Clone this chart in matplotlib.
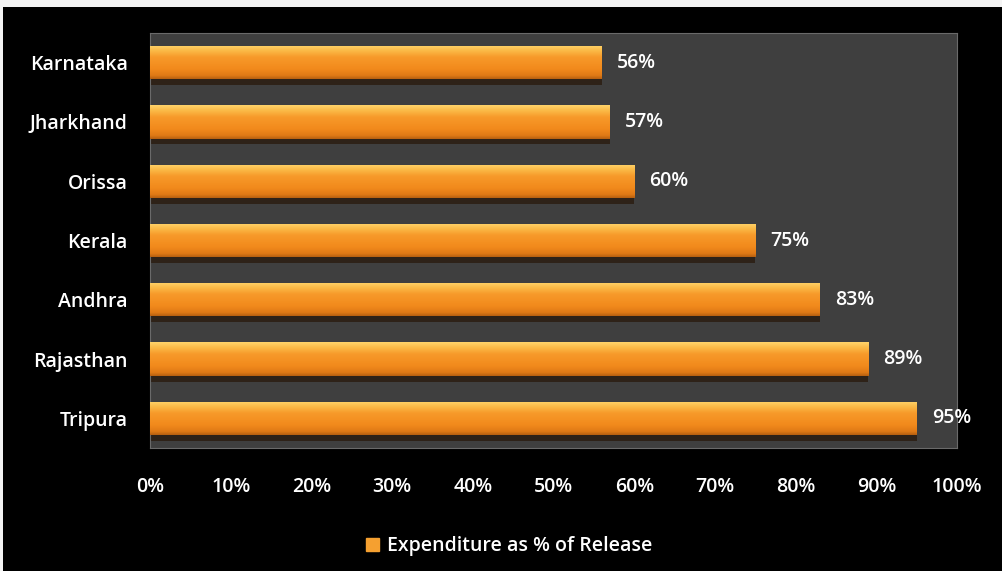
import matplotlib
matplotlib.use("Agg")
import matplotlib.pyplot as plt
import numpy as np
from matplotlib.colors import LinearSegmentedColormap
from matplotlib.patches import Patch, Rectangle

states = ["Karnataka", "Jharkhand", "Orissa", "Kerala", "Andhra", "Rajasthan", "Tripura"]
values = [56, 57, 60, 75, 83, 89, 95]
xticks = [0, 10, 20, 30, 40, 50, 60, 70, 80, 90, 100]
legend_label = "Expenditure as % of Release"

plt.rcParams['font.family'] = ['Open Sans', 'DejaVu Sans']
FS = 14

fig = plt.figure(figsize=(10.02, 5.71), dpi=100, facecolor='black')
# thin white border at top and left
fig.patches.append(Rectangle((0, 1 - 7/571), 1, 7/571, transform=fig.transFigure,
                             facecolor='#f4f4f4', edgecolor='none', zorder=0))
fig.patches.append(Rectangle((0, 0), 3/1002, 1, transform=fig.transFigure,
                             facecolor='#f4f4f4', edgecolor='none', zorder=0))

L, R, T, B = 150, 957, 33, 448
ax = fig.add_axes([L/1002, 1 - B/571, (R-L)/1002, (B-T)/571])
ax.set_facecolor('#3f3f3f')
for s in ax.spines.values():
    s.set_color('#6a6a6a')
    s.set_linewidth(0.8)

y = np.arange(len(states))
h = 0.56
# shadow (3D floor) below each bar
ax.barh(y + 0.1, values, height=h, color='#2e2218', zorder=1)
bars = ax.barh(y, values, height=h, color='#f28c1e', zorder=2)

cmap = LinearSegmentedColormap.from_list('cyl', [
    (0.0, '#ffd36a'), (0.15, '#fbbb48'), (0.35, '#f79a2a'),
    (0.7, '#f28a1c'), (0.9, '#e07a16'), (1.0, '#b86010')])
grad = np.linspace(0, 1, 64).reshape(-1, 1)
for b in bars:
    x0, y0 = b.get_x(), b.get_y()
    w, hh = b.get_width(), b.get_height()
    im = ax.imshow(grad, cmap=cmap, aspect='auto',
                   extent=[x0, x0 + w, y0 + hh, y0], origin='upper', zorder=3)
    im.set_clip_path(b)

for yi, v in zip(y, values):
    ax.text(v + 1.9, yi, f"{v}%", color='white', va='center', ha='left',
            fontsize=FS, fontweight='semibold', zorder=4)

ax.set_xlim(0, 100)
ax.set_ylim(len(states) - 0.5, -0.5)
ax.set_xticks(xticks)
ax.set_xticklabels([f"{t}%" for t in xticks], color='white', fontsize=FS, fontweight='semibold')
ax.set_yticks(y)
ax.set_yticklabels(states, color='white', fontsize=FS, fontweight='semibold')
ax.tick_params(axis='both', length=0)
ax.tick_params(axis='x', pad=21)
ax.tick_params(axis='y', pad=16)

leg = fig.legend(handles=[Patch(facecolor='#f5a030', edgecolor='#f5a030')],
                 labels=[legend_label], loc='center', bbox_to_anchor=(0.508, 1 - 546/571),
                 frameon=False, fontsize=FS, handlelength=0.65, handleheight=0.65,
                 handletextpad=0.4)
for t in leg.get_texts():
    t.set_color('white')
    t.set_fontweight('semibold')

fig.savefig('out.png', dpi=100, facecolor='black')
